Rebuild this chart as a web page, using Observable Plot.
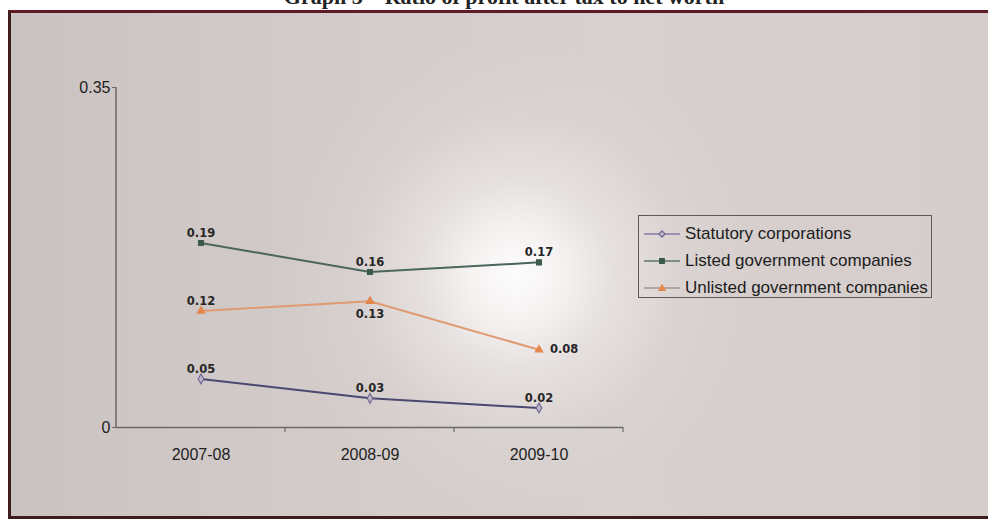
<!DOCTYPE html>
<html>
<head>
<meta charset="utf-8">
<script src="https://cdn.jsdelivr.net/npm/d3@7"></script>
<script src="https://cdn.jsdelivr.net/npm/@observablehq/plot@0.6"></script>
<style>
  html, body { margin: 0; padding: 0; width: 988px; height: 522px; overflow: hidden; background: #fff; }
  #title { position: absolute; left: 0; width: 1008px; top: -14px; text-align: center;
    font: bold 22px "Liberation Serif", "DejaVu Serif", serif; color: #222; line-height: 22px; white-space: nowrap; }
  #frame { position: absolute; left: 8px; top: 10px; width: 1000px; height: 503px;
    border: 3px solid #3e1d1c; border-top-color: #5e1a26;
    background:
      radial-gradient(circle at 505px 262px, rgba(253,252,252,1) 0px, rgba(248,246,245,0.95) 40px, rgba(238,234,233,0.6) 100px, rgba(230,225,224,0.2) 165px, rgba(230,225,224,0) 235px),
      linear-gradient(to right, #cbc3c1 0%, #d3cbc9 30%, #d7d0ce 60%, #d4cdcb 100%); }
  #chart { position: absolute; left: 0; top: 0; }
  #legend { position: absolute; left: 638px; top: 215px; width: 294px; height: 83px;
    border: 1.5px solid #5e5858; box-sizing: border-box; padding-top: 4px;
    font: 17px "Liberation Sans", Arial, sans-serif; color: #1c1c1c; }
  #legend .row { display: flex; align-items: center; height: 27px; white-space: nowrap; }
  #legend svg { margin-left: 5px; margin-right: 5px; flex: none; }
</style>
</head>
<body>
<div id="title">Graph 3 – Ratio of profit after tax to net worth</div>
<div id="frame"></div>
<div id="chart"></div>
<div id="legend"></div>
<script>
// ---- data ----
const years = ["2007-08", "2008-09", "2009-10"];
const seriesNames = ["Statutory corporations", "Listed government companies", "Unlisted government companies"];
const statutory = [0.05, 0.03, 0.02];
const listed = [0.19, 0.16, 0.17];
const unlisted = [0.12, 0.13, 0.08];
const yTicks = [0, 0.35];
const yTickLabels = ["0", "0.35"];

// ---- styling (not data) ----
const colors = { [seriesNames[0]]: "#4a4870", [seriesNames[1]]: "#4b665b", [seriesNames[2]]: "#e09a72" };
const markColors = { [seriesNames[0]]: "#6c6690", [seriesNames[1]]: "#3c5a4b", [seriesNames[2]]: "#e3874c" };
const symbols = { [seriesNames[0]]: "diamond", [seriesNames[1]]: "square", [seriesNames[2]]: "triangle" };
const legendLine = { [seriesNames[0]]: "#8a78a6", [seriesNames[1]]: "#5f756b", [seriesNames[2]]: "#a8948a" };

const valuesBySeries = [statutory, listed, unlisted];
const rows = [];
seriesNames.forEach((s, si) => years.forEach((y, i) => rows.push({ series: s, year: y, value: valuesBySeries[si][i], idx: i })));

// label placement: most labels sit above the point; two unlisted labels are placed differently
const place = d => d.series === seriesNames[2] && d.idx === 1 ? "below" : (d.series === seriesNames[2] && d.idx === 2 ? "right" : "above");
const fmt = d3.format(".2f");
const labelStyle = { fontFamily: "DejaVu Sans, sans-serif", fontWeight: "bold", fontSize: 11.5, fill: "#262626", style: "letter-spacing:2.2px" };

const chart = Plot.plot({
  width: 988,
  height: 522,
  marginLeft: 116,
  marginRight: 365,
  marginTop: 87,
  marginBottom: 95,
  style: { background: "transparent", overflow: "visible" },
  x: { type: "band", domain: years, padding: 0 },
  y: { domain: [0, 0.35] },
  marks: [
    Plot.axisY({ ticks: yTicks, tickFormat: (d) => yTickLabels[yTicks.indexOf(d)], tickSize: 4, tickPadding: 2, stroke: "#6a6a6a",
      fontSize: 16, fontFamily: "Liberation Sans, Arial, sans-serif", fill: "#1e1e1e", label: null }),
    Plot.axisX({ tickSize: 0, tickPadding: 21, fontSize: 16, fontFamily: "Liberation Sans, Arial, sans-serif", fill: "#1e1e1e", label: null }),
    Plot.ruleY([0], { stroke: "#6a6a6a", strokeWidth: 1.5 }),
    Plot.line(rows, { x: "year", y: "value", z: "series", stroke: d => colors[d.series], strokeWidth: 2 }),
    ...seriesNames.map(s => Plot.dot(rows.filter(d => d.series === s), {
      x: "year", y: "value", symbol: symbols[s], r: s === seriesNames[0] ? 3 : 2.8,
      fill: s === seriesNames[0] ? "#bdb4c8" : markColors[s], stroke: markColors[s], strokeWidth: 1.1 })),
    Plot.text(rows.filter(d => place(d) === "above"), { x: "year", y: "value", text: d => fmt(d.value), dy: -10, ...labelStyle }),
    Plot.text(rows.filter(d => place(d) === "below"), { x: "year", y: "value", text: d => fmt(d.value), dy: 13, ...labelStyle }),
    Plot.text(rows.filter(d => place(d) === "right"), { x: "year", y: "value", text: d => fmt(d.value), dx: 11, textAnchor: "start", ...labelStyle })
  ]
});

// vertical axis line and between-category tick marks, placed from Plot's own scales
const xs = chart.scale("x"), ys = chart.scale("y");
const svg = d3.select(chart);
const left = xs.range[0];
svg.append("line").attr("x1", left).attr("x2", left).attr("y1", ys.apply(0.35)).attr("y2", ys.apply(0))
  .attr("stroke", "#6a6a6a").attr("stroke-width", 1.5);
years.forEach((y) => {
  const bx = xs.apply(y) + xs.bandwidth;
  svg.append("line").attr("x1", bx).attr("x2", bx).attr("y1", ys.apply(0)).attr("y2", ys.apply(0) + 5)
    .attr("stroke", "#6a6a6a").attr("stroke-width", 1.2);
});
document.getElementById("chart").appendChild(chart);

// legend
const legend = document.getElementById("legend");
const symPath = {
  diamond: "M18,2.8 L21.2,6 L18,9.2 L14.8,6 Z",
  square: "M15.6,3.6 h4.8 v4.8 h-4.8 Z",
  triangle: "M18,2.8 L21.2,8.4 L14.8,8.4 Z"
};
seriesNames.forEach((s) => {
  const row = document.createElement("div");
  row.className = "row";
  const fill = s === seriesNames[0] ? "#bdb4c8" : markColors[s];
  row.innerHTML = `<svg width="36" height="12"><line x1="0" x2="36" y1="6" y2="6" stroke="${legendLine[s]}" stroke-width="1.6"/><path d="${symPath[symbols[s]]}" fill="${fill}" stroke="${markColors[s]}" stroke-width="1.1"/></svg><span>${s}</span>`;
  legend.appendChild(row);
});
</script>
</body>
</html>
